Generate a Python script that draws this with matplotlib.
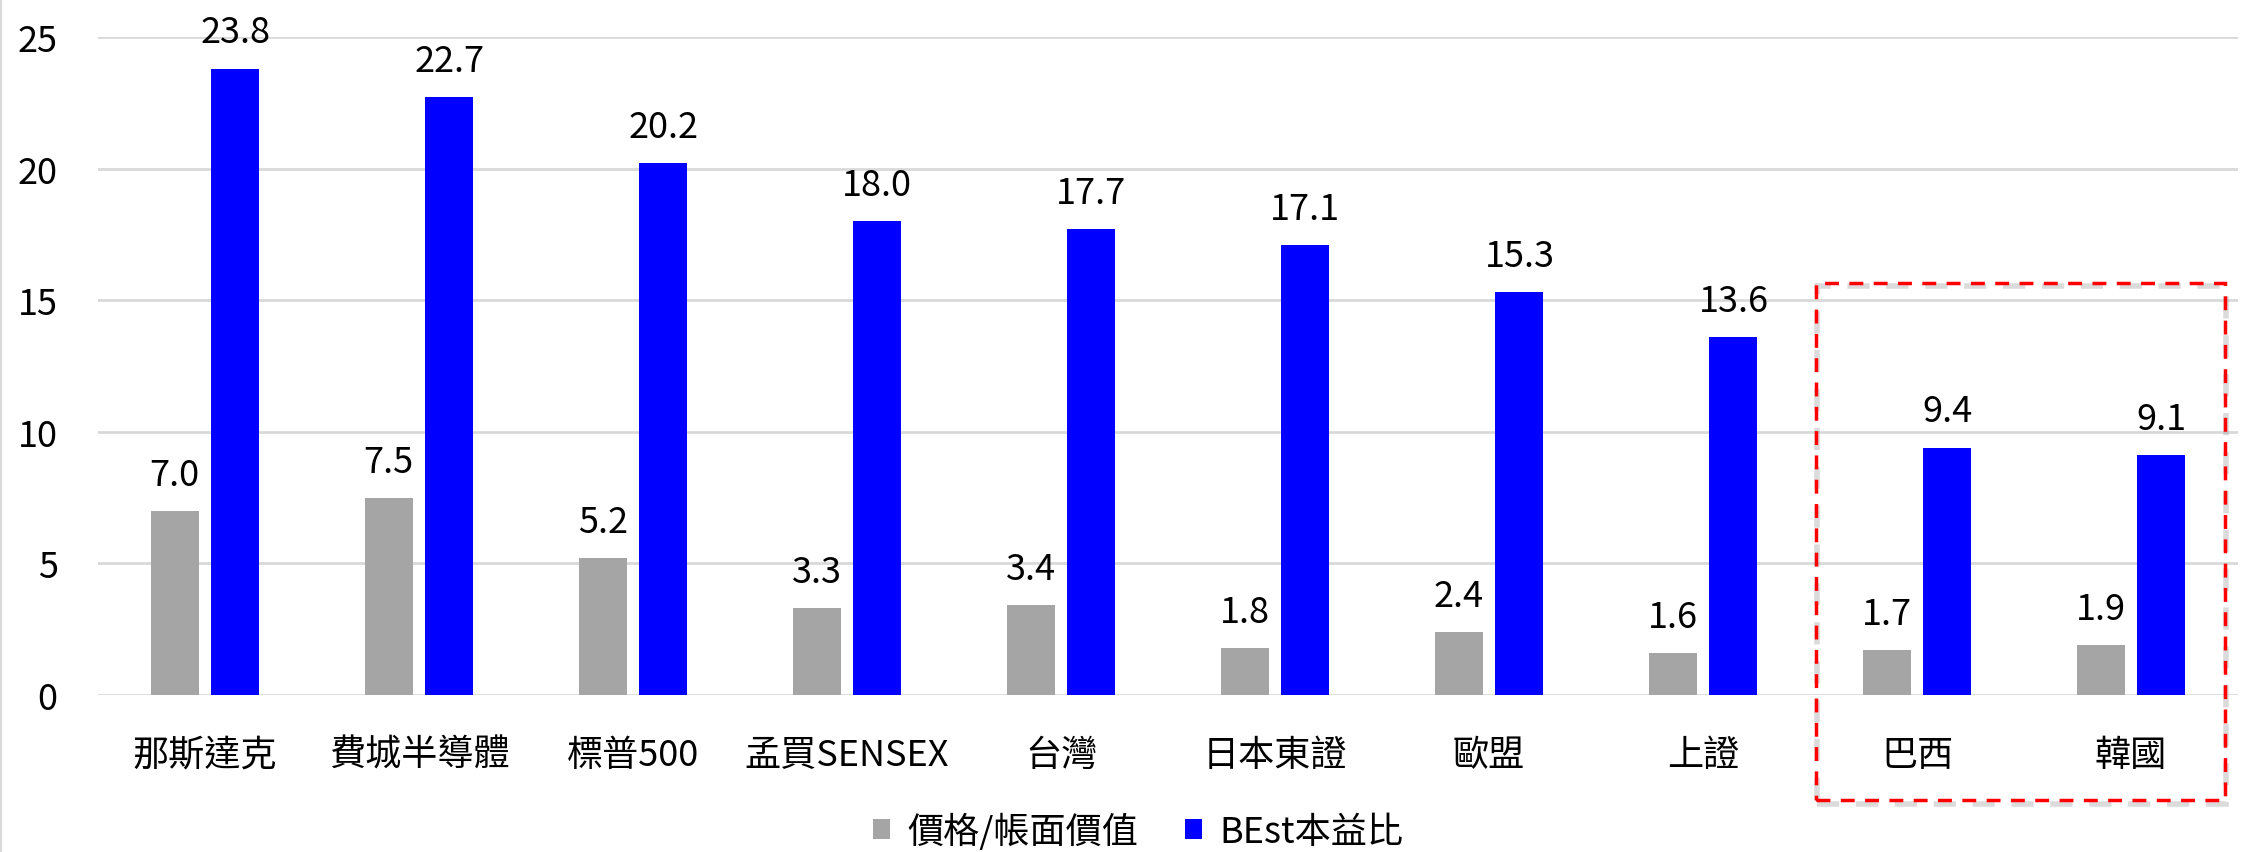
import matplotlib
matplotlib.use("Agg")
import matplotlib.pyplot as plt
from matplotlib.patches import Rectangle
from matplotlib.lines import Line2D
import numpy as np

plt.rcParams['font.family'] = ['Noto Sans CJK TC', 'DejaVu Sans']
plt.rcParams['font.weight'] = 'light'

categories = ["那斯達克", "費城半導體", "標普500", "孟買SENSEX", "台灣",
              "日本東證", "歐盟", "上證", "巴西", "韓國"]
pb = [7.0, 7.5, 5.2, 3.3, 3.4, 1.8, 2.4, 1.6, 1.7, 1.9]
pe = [23.8, 22.7, 20.2, 18.0, 17.7, 17.1, 15.3, 13.6, 9.4, 9.1]
series_names = ["價格/帳面價值", "BEst本益比"]

fig = plt.figure(figsize=(22.47, 8.53), dpi=100)
ax = fig.add_axes([0.0436, 0.1841, 0.9524, 0.7714])

x = np.arange(len(categories))
w = 0.224
b1 = ax.bar(x - 0.142, pb, w, color="#a5a5a5", label=series_names[0], zorder=3)
b2 = ax.bar(x + 0.142, pe, w, color="#0000ff", label=series_names[1], zorder=3)

ax.bar_label(b1, fmt="%.1f", padding=13, fontsize=26)
ax.bar_label(b2, fmt="%.1f", padding=13, fontsize=26)

ax.set_xlim(-0.5, len(categories) - 0.5)
ax.set_ylim(0, 25)
ax.set_yticks([0, 5, 10, 15, 20, 25])
ax.set_xticks(x)
ax.set_xticklabels(categories)
ax.tick_params(axis="x", length=0, pad=30, labelsize=26)
ax.tick_params(axis="y", length=0, pad=29, labelsize=26)
ax.grid(axis="y", color="#d9d9d9", linewidth=2, zorder=0)
for s in ax.spines.values():
    s.set_visible(False)

leg = fig.legend(loc="center", bbox_to_anchor=(0.5065, 0.024), ncol=2,
                 frameon=False, fontsize=26, handlelength=0.47,
                 handleheight=0.47, handletextpad=0.47, columnspacing=1.3)

# red dashed highlight box with soft shadow
shadow = Rectangle((0.8088, 0.056), 0.182, 0.607, transform=fig.transFigure,
                   fill=False, edgecolor="#999999", alpha=0.35, linewidth=4,
                   linestyle=(0, (4, 3)))
fig.add_artist(shadow)
box = Rectangle((0.8082, 0.0605), 0.182, 0.607, transform=fig.transFigure,
                fill=False, edgecolor="#ff0000", linewidth=2.5,
                linestyle=(0, (4, 3)))
fig.add_artist(box)

fig.add_artist(Line2D([0.0005, 0.0005], [0, 1], transform=fig.transFigure,
                      color="#d9d9d9", linewidth=1.5))

fig.savefig("out.png", dpi=100)
